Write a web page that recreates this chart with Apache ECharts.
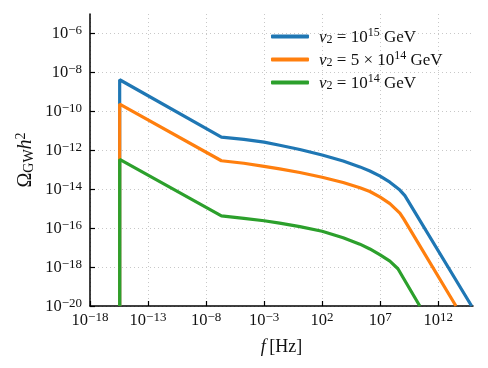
<!DOCTYPE html>
<html>
<head>
<meta charset="utf-8">
<script src="https://cdn.jsdelivr.net/npm/echarts@6/dist/echarts.min.js"></script>
<style>
  html, body { margin: 0; padding: 0; background: #fff; }
  #chart { width: 488px; height: 368px; }
</style>
</head>
<body>
<div id="chart"></div>
<script>
// tick positions (values, log axes)
const xTicks = [1e-18, 1e-13, 1e-8, 1e-3, 1e2, 1e7, 1e12];
const yTicks = [1e-20, 1e-18, 1e-16, 1e-14, 1e-12, 1e-10, 1e-8, 1e-6];

const seriesNames = ['v2 = 1e15 GeV', 'v2 = 5e14 GeV', 'v2 = 1e14 GeV'];
const legendLabels = [
  '{i|v}{sub|2}{t| = 10}{sup|15}{t| GeV}',
  '{i|v}{sub|2}{t| = 5 \u00d7 10}{sup|14}{t| GeV}',
  '{i|v}{sub|2}{t| = 10}{sup|14}{t| GeV}'
];

// f [Hz] and Omega_GW h^2
const fBlue = [3.6e-16, 3.6e-16, 2.1e-7, 1.8e-5, 1e-3, 2.2e-2, 1.2, 1e2, 6.5e3, 1.8e5, 1.3e6, 1e7, 6.9e7, 5e8, 1.35e9, 7.6e14];
const omegaBlue = [1e-20, 4.2e-9, 4.7e-12, 3.6e-12, 2.6e-12, 1.8e-12, 1.1e-12, 5.7e-13, 2.8e-13, 1.4e-13, 8.6e-14, 4.7e-14, 2.3e-14, 9.0e-15, 4.7e-15, 1e-20];

const fOrange = [3.6e-16, 3.6e-16, 2.1e-7, 1.8e-5, 1e-3, 2.2e-2, 1.2, 1e2, 6.5e3, 1.8e5, 1.3e6, 1e7, 6.9e7, 5e8, 1.1e9, 3.4e13];
const omegaOrange = [1e-20, 2.35e-10, 2.9e-13, 2.15e-13, 1.5e-13, 1.1e-13, 7.2e-14, 4.1e-14, 2.2e-14, 1.2e-14, 7.6e-15, 3.9e-15, 1.8e-15, 5.9e-16, 2.9e-16, 1e-20];

const fGreen = [3.6e-16, 3.6e-16, 2.1e-7, 1.8e-5, 1e-3, 2.2e-2, 1.2, 1e2, 6.5e3, 1.8e5, 1.3e6, 1e7, 6.9e7, 3.4e8, 2.6e10];
const omegaGreen = [1e-20, 3.4e-13, 4.3e-16, 3.2e-16, 2.4e-16, 1.8e-16, 1.2e-16, 6.9e-17, 3.2e-17, 1.5e-17, 8.5e-18, 4.2e-18, 2.0e-18, 8.2e-19, 1e-20];

const colors = ['#1f77b4', '#ff7f0e', '#2ca02c'];
const serif = '"Liberation Serif", "DejaVu Serif", serif';
const ink = '#111';

function powLabel(v) {
  const e = Math.round(Math.log10(v));
  return '{b|10}{s|' + String(e).replace('-', '\u2212') + '}';
}

const tickRich = {
  b: { fontFamily: serif, fontSize: 16.5, color: ink, lineHeight: 18, verticalAlign: 'bottom' },
  s: { fontFamily: serif, fontSize: 13, color: ink, lineHeight: 14, verticalAlign: 'top', padding: [0, 0, 9, 0] }
};

function textRich(size) {
  const small = Math.round(size * 0.72);
  return {
    t: { fontFamily: serif, fontSize: size, color: ink, lineHeight: size + 2, verticalAlign: 'bottom' },
    i: { fontFamily: serif, fontSize: size, fontStyle: 'italic', color: ink, lineHeight: size + 2, verticalAlign: 'bottom' },
    sub: { fontFamily: serif, fontSize: small, color: ink, lineHeight: small + 1, verticalAlign: 'bottom' },
    sup: { fontFamily: serif, fontSize: small, color: ink, lineHeight: small + 1, verticalAlign: 'top', padding: [0, 0, 10, 0] }
  };
}

const chart = echarts.init(document.getElementById('chart'));

function makeSeries(name, fs, omegas, i) {
  return {
    name: name,
    type: 'line',
    symbol: 'none',
    data: fs.map((f, k) => [f, omegas[k]]),
    lineStyle: { color: colors[i], width: 3.2 },
    itemStyle: { color: colors[i] },
    clip: true
  };
}

const option = {
  animation: false,
  color: colors,
  grid: { left: 90, right: 15, top: 14, bottom: 62, outerBoundsMode: 'none' },
  legend: {
    orient: 'vertical',
    left: 266,
    top: 22,
    itemWidth: 38,
    itemHeight: 4,
    itemGap: 1,
    icon: 'roundRect',
    data: seriesNames,
    formatter: name => legendLabels[seriesNames.indexOf(name)],
    textStyle: { rich: textRich(17), padding: [0, 0, 0, 5] }
  },
  xAxis: {
    type: 'log',
    logBase: 10,
    min: 1e-18,
    max: 1e15,
    name: '{i|f} {t|[Hz]}',
    nameLocation: 'middle',
    nameGap: 28,
    nameTextStyle: { rich: textRich(18) },
    axisLine: { show: true, onZero: false, lineStyle: { color: '#000', width: 1.5 } },
    axisTick: { show: true, inside: true, length: 5, customValues: xTicks, lineStyle: { color: '#000', width: 1.2 } },
    axisLabel: { customValues: xTicks, formatter: powLabel, rich: tickRich, margin: 5 },
    splitLine: { show: true, lineStyle: { color: '#c8c8c8', type: [1, 3], width: 1 } },
    minorTick: { show: false }
  },
  yAxis: {
    type: 'log',
    logBase: 10,
    min: 1e-20,
    max: 1e-5,
    name: '{t|\u03a9}{sub|GW}{i|h}{sup|2}',
    nameLocation: 'middle',
    nameRotate: 90,
    nameGap: 54,
    nameMoveOverlap: false,
    nameTextStyle: { rich: textRich(20) },
    axisLine: { show: true, onZero: false, lineStyle: { color: '#000', width: 1.5 } },
    axisTick: { show: true, inside: true, length: 5, customValues: yTicks, lineStyle: { color: '#000', width: 1.2 } },
    axisLabel: { customValues: yTicks, formatter: powLabel, rich: tickRich, margin: 8 },
    splitLine: { show: true, lineStyle: { color: '#c8c8c8', type: [1, 3], width: 1 } },
    minorTick: { show: false }
  },
  series: [
    makeSeries(seriesNames[0], fBlue, omegaBlue, 0),
    makeSeries(seriesNames[1], fOrange, omegaOrange, 1),
    makeSeries(seriesNames[2], fGreen, omegaGreen, 2)
  ]
};

chart.setOption(option);
</script>
</body>
</html>
